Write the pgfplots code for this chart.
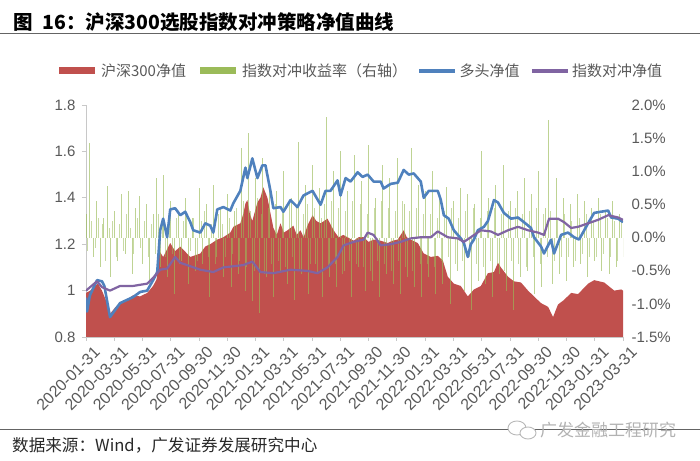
\documentclass[border=0pt]{standalone}
\usepackage{fontspec}
\setmainfont{Liberation Sans}
\newfontfamily\cjk{Noto Sans CJK SC}
\usepackage{pgfplots}
\pgfplotsset{compat=1.18}
\definecolor{hsred}{RGB}{192,80,77}
\definecolor{hsgreen}{RGB}{155,187,89}
\definecolor{hsblue}{RGB}{79,129,189}
\definecolor{hspurple}{RGB}{128,100,162}
\definecolor{tickgray}{RGB}{89,89,89}
\definecolor{axgray}{RGB}{200,200,200}
\pgfplotsset{
  base/.style={scale only axis, width=537bp, height=232bp, at={(86bp,124bp)}, anchor=south west,
    xmin=0, xmax=38, /pgf/number format/assume math mode=true,
    tick label style={font=\fontsize{15bp}{17bp}\selectfont, text=tickgray}},
}
\begin{document}
\begin{tikzpicture}
\useasboundingbox (0,0) rectangle (700bp,461bp);
% left axis with area
\begin{axis}[base, ymin=0.8, ymax=1.8, ytick={0.8,1,1.2,1.4,1.6,1.8},
  axis x line*=bottom, axis y line*=left,
  axis line style={draw=axgray, line width=0.8bp},
  tick style={draw=axgray, line width=0.8bp}, tick align=outside, major tick length=4bp,
  xtick={0,2,...,38},
  xticklabels={2020-01-31,2020-03-31,2020-05-31,2020-07-31,2020-09-30,2020-11-30,2021-01-31,2021-03-31,2021-05-31,2021-07-31,2021-09-30,2021-11-30,2022-01-31,2022-03-31,2022-05-31,2022-07-31,2022-09-30,2022-11-30,2023-01-31,2023-03-31},
  xticklabel style={rotate=45, anchor=north east, inner sep=1bp, font=\fontsize{16bp}{18bp}\selectfont, xshift=3bp, yshift=-7bp},
  yticklabel style={/pgf/number format/fixed, xshift=-3bp}]
\addplot[fill=hsred, draw=none] coordinates {
(0.00,0.99) (0.30,1.00) (0.60,1.02) (0.85,1.03) (1.13,1.00) (1.40,0.96) (1.70,0.90) (2.10,0.93)
(2.41,0.946) (2.90,0.96) (3.33,0.98) (3.83,0.975) (4.33,0.99) (4.75,1.02) (5.00,1.05) (5.15,1.175)
(5.46,1.145) (5.96,1.205) (6.31,1.17) (6.67,1.19) (7.38,1.145) (8.09,1.16) (8.44,1.19) (8.79,1.20)
(9.29,1.22) (9.72,1.23) (10.21,1.25) (10.43,1.275) (10.92,1.29) (11.13,1.33) (11.28,1.375) (11.42,1.39)
(11.60,1.33) (11.77,1.30) (12.13,1.38) (12.34,1.40) (12.55,1.445) (12.84,1.40) (13.05,1.335) (13.26,1.27)
(13.50,1.24) (13.76,1.29) (14.00,1.25) (14.26,1.26) (14.68,1.28) (14.90,1.24) (15.18,1.26) (15.40,1.23)
(15.67,1.28) (16.03,1.325) (16.30,1.30) (16.60,1.29) (17.09,1.31) (17.52,1.26) (17.87,1.23) (18.20,1.24)
(18.51,1.23) (18.94,1.215) (19.30,1.23) (19.65,1.23) (20.00,1.21) (20.35,1.22) (20.85,1.215) (21.35,1.205)
(21.70,1.215) (22.06,1.22) (22.48,1.26) (22.70,1.23) (22.98,1.22) (23.48,1.205) (23.90,1.16) (24.40,1.145)
(24.89,1.15) (25.25,1.13) (25.60,1.06) (26.03,1.03) (26.52,1.02) (27.02,0.975) (27.45,1.005) (27.94,1.02)
(28.44,1.075) (28.87,1.08) (29.15,1.12) (29.36,1.10) (29.86,1.06) (30.28,1.04) (30.78,1.035) (31.28,1.00)
(31.70,0.975) (32.20,0.946) (32.70,0.93) (33.05,0.886) (33.40,0.94) (33.83,0.96) (34.33,0.99) (34.82,0.985)
(35.53,1.03) (35.96,1.045) (36.67,1.035) (37.38,1.00) (37.87,1.005) (38.00,1.00)
} \closedcycle;
\end{axis}
% right axis with hedge returns
\begin{axis}[base, ymin=-1.5, ymax=2.0, ytick={-1.5,-1,-0.5,0,0.5,1,1.5,2},
  axis y line*=right, axis x line=none,
  y axis line style={draw=none}, ytick style={draw=none}, major tick length=4bp,
  yticklabel style={xshift=5bp},
  yticklabel={\pgfmathprintnumber[fixed,fixed zerofill,precision=1]{\tick}\%}]
\addplot[ycomb, draw=hsgreen, line width=0.7bp, opacity=0.65] coordinates {
(0,0.35) (0.25,1.43) (0.5,-0.30) (0.75,0.55) (1.0,-0.45) (1.25,0.30) (1.5,0.78) (1.75,-0.60)
(2.0,0.40) (2.25,-0.35) (2.5,0.65) (2.75,-0.25) (3.0,0.70) (3.25,-0.55) (3.5,0.45) (3.75,0.62)
(4.0,-0.40) (4.25,0.50) (4.5,-0.70) (4.75,0.35) (5.0,0.90) (5.25,-0.45) (5.5,0.95) (5.75,-0.60)
(6.0,0.55) (6.25,-0.85) (6.5,0.40) (6.75,-0.35) (7.0,0.60) (7.25,-0.70) (7.5,0.30) (7.75,-0.50)
(8.0,0.75) (8.25,-0.40) (8.5,0.50) (8.75,-0.90) (9.0,0.80) (9.25,-0.30) (9.5,0.45) (9.75,-0.60)
(10.0,0.65) (10.25,-0.75) (10.5,0.40) (10.75,-0.55) (11.0,1.35) (11.25,-0.80) (11.5,1.58) (11.75,-0.95)
(12.0,0.90) (12.25,-1.14) (12.5,1.20) (12.75,-0.60) (13.0,0.85) (13.25,-0.90) (13.5,0.70) (13.75,-0.50)
(14.0,1.00) (14.25,-0.70) (14.5,0.60) (14.75,-0.94) (15.0,1.44) (15.25,-0.55) (15.5,0.80) (15.75,-0.85)
(16.0,1.10) (16.25,-0.40) (16.5,0.75) (16.75,-0.90) (17.0,1.82) (17.25,-0.60) (17.5,1.00) (17.75,-0.75)
(18.0,1.30) (18.25,-0.50) (18.5,0.70) (18.75,-0.90) (19.0,1.25) (19.25,-0.45) (19.5,0.85) (19.75,-0.80)
(20.0,1.40) (20.25,-0.65) (20.5,0.60) (20.75,-0.90) (21.0,1.10) (21.25,-0.55) (21.5,0.90) (21.75,-0.70)
(22.0,1.20) (22.25,-0.85) (22.5,0.50) (22.75,-0.60) (23.0,1.35) (23.25,-0.75) (23.5,0.80) (23.75,-0.90)
(24.0,0.70) (24.25,-0.60) (24.5,1.00) (24.75,-0.85) (25.0,0.60) (25.25,-0.70) (25.5,0.76) (25.75,-1.00)
(26.0,0.55) (26.25,-0.50) (26.5,0.75) (26.75,-0.80) (27.0,0.65) (27.25,-1.10) (27.5,0.50) (27.75,-0.65)
(28.0,1.30) (28.25,-0.70) (28.5,0.60) (28.75,-0.90) (29.0,0.80) (29.25,-0.55) (29.5,1.10) (29.75,-0.80)
(30.0,0.55) (30.25,-1.10) (30.5,0.70) (30.75,-0.60) (31.0,0.90) (31.25,-0.50) (31.5,0.65) (31.75,-0.85)
(32.0,1.00) (32.25,-0.75) (32.5,0.45) (32.75,1.77) (33.0,-0.70) (33.25,0.90) (33.5,-0.55) (33.75,0.60)
(34.0,-0.65) (34.25,0.50) (34.5,-0.45) (34.75,0.65) (35.0,-0.40) (35.25,0.55) (35.5,-0.60) (35.75,0.45)
(36.0,-0.35) (36.25,0.60) (36.5,-0.50) (36.75,0.40) (37.0,-0.55) (37.25,0.55) (37.5,-0.45) (37.75,0.35)
(38.0,-0.30)
};
\addplot[ycomb, draw=hsgreen, line width=0.6bp, opacity=0.55] coordinates {
(0.125,-0.20) (0.375,0.25) (0.625,-0.15) (0.875,0.30) (1.125,0.20) (1.375,-0.35) (1.625,0.15) (1.875,0.25)
(2.125,-0.30) (2.375,0.20) (2.625,-0.20) (2.875,0.35) (3.125,0.15) (3.375,-0.25) (3.625,0.30) (3.875,-0.15)
(4.125,0.25) (4.375,-0.30) (4.625,0.20) (4.875,-0.25) (5.125,0.35) (5.375,0.20) (5.625,-0.30) (5.875,0.40)
(6.125,-0.25) (6.375,0.30) (6.625,-0.40) (6.875,0.25) (7.125,0.35) (7.375,-0.20) (7.625,0.30) (7.875,-0.35)
(8.125,0.25) (8.375,0.40) (8.625,-0.30) (8.875,0.20) (9.125,-0.40) (9.375,0.35) (9.625,0.20) (9.875,-0.30)
(10.125,0.30) (10.375,-0.25) (10.625,0.45) (10.875,-0.35) (11.125,0.55) (11.375,-0.45) (11.625,0.40) (11.875,-0.50)
(12.125,0.60) (12.375,0.35) (12.625,-0.55) (12.875,0.45) (13.125,-0.40) (13.375,0.50) (13.625,-0.35) (13.875,0.40)
(14.125,-0.45) (14.375,0.55) (14.625,-0.30) (14.875,0.45) (15.125,-0.50) (15.375,0.35) (15.625,0.50) (15.875,-0.40)
(16.125,0.45) (16.375,-0.55) (16.625,0.30) (16.875,0.50) (17.125,-0.45) (17.375,0.55) (17.625,-0.40) (17.875,0.45)
(18.125,-0.55) (18.375,0.40) (18.625,-0.35) (18.875,0.55) (19.125,-0.40) (19.375,0.50) (19.625,-0.45) (19.875,0.35)
(20.125,-0.50) (20.375,0.45) (20.625,-0.35) (20.875,0.55) (21.125,-0.40) (21.375,0.45) (21.625,-0.50) (21.875,0.40)
(22.125,-0.35) (22.375,0.55) (22.625,-0.45) (22.875,0.40) (23.125,-0.50) (23.375,0.45) (23.625,-0.40) (23.875,0.35)
(24.125,-0.40) (24.375,0.35) (24.625,-0.45) (24.875,0.30) (25.125,-0.35) (25.375,0.40) (25.625,-0.30) (25.875,0.45)
(26.125,-0.40) (26.375,0.30) (26.625,-0.35) (26.875,0.40) (27.125,-0.30) (27.375,0.45) (27.625,-0.40) (27.875,0.30)
(28.125,-0.45) (28.375,0.40) (28.625,-0.35) (28.875,0.45) (29.125,-0.40) (29.375,0.35) (29.625,-0.50) (29.875,0.40)
(30.125,-0.35) (30.375,0.45) (30.625,-0.40) (30.875,0.35) (31.125,-0.45) (31.375,0.40) (31.625,-0.30) (31.875,0.45)
(32.125,-0.40) (32.375,0.35) (32.625,-0.30) (32.875,0.40) (33.125,-0.35) (33.375,0.30) (33.625,-0.30) (33.875,0.35)
(34.125,-0.30) (34.375,0.25) (34.625,-0.35) (34.875,0.30) (35.125,-0.25) (35.375,0.35) (35.625,-0.30) (35.875,0.25)
(36.125,-0.30) (36.375,0.35) (36.625,-0.25) (36.875,0.30) (37.125,-0.30) (37.375,0.25) (37.625,-0.35) (37.875,0.30)
};
\end{axis}
% lines and legend
\begin{axis}[base, ymin=0.8, ymax=1.8, hide axis,
  legend style={at={(axis description cs:-0.057,1.147)}, anchor=west, draw=none, fill=none,
    inner sep=0pt, font=\cjk\fontsize{15bp}{17bp}\selectfont, text=tickgray,
    nodes={inner xsep=2.5bp, inner ysep=1bp},
    /tikz/every even column/.append style={column sep=8bp}},
  legend columns=4,
  legend image code/.code={\draw[#1] (0bp,0bp) -- (36bp,0bp);}]
\addlegendimage{draw=hsred, line width=7bp}
\addlegendentry{沪深300净值}
\addlegendimage{draw=hsgreen, line width=7bp}
\addlegendentry{指数对冲收益率（右轴）}
\addlegendimage{draw=hsblue, line width=3.5bp}
\addlegendentry{多头净值}
\addlegendimage{draw=hspurple, line width=3.5bp}
\addlegendentry{指数对冲净值}
\addplot[forget plot, draw=hsblue, line width=2.6bp, line join=round] coordinates {
(0.00,0.97) (0.07,0.91) (0.28,0.98) (0.78,1.045) (1.13,1.04) (1.30,1.02) (1.70,0.886) (2.41,0.946)
(3.33,0.972) (3.83,0.994) (4.33,1.00) (4.75,1.045) (5.04,1.08) (5.25,1.26) (5.46,1.31) (5.74,1.23)
(5.96,1.35) (6.31,1.355) (6.67,1.325) (7.02,1.34) (7.38,1.295) (7.59,1.26) (8.09,1.25) (8.44,1.29)
(8.79,1.28) (9.01,1.25) (9.29,1.35) (9.72,1.36) (10.21,1.345) (10.43,1.377) (10.92,1.43) (11.28,1.53)
(11.42,1.485) (11.77,1.57) (12.13,1.485) (12.48,1.54) (12.70,1.54) (13.05,1.43) (13.26,1.355) (13.76,1.36)
(13.97,1.34) (14.47,1.39) (14.96,1.36) (15.39,1.41) (16.03,1.43) (16.60,1.37) (16.95,1.43) (17.30,1.43)
(17.80,1.475) (18.01,1.41) (18.37,1.485) (18.72,1.47) (19.22,1.51) (19.57,1.49) (19.93,1.50) (20.35,1.47)
(20.85,1.47) (21.06,1.44) (21.56,1.46) (22.06,1.465) (22.48,1.52) (22.84,1.50) (23.19,1.505) (23.69,1.47)
(23.90,1.40) (24.26,1.43) (24.89,1.43) (25.11,1.39) (25.32,1.325) (25.67,1.31) (26.03,1.26) (26.52,1.225)
(26.74,1.205) (27.02,1.145) (27.23,1.20) (27.45,1.22) (27.73,1.26) (28.16,1.275) (28.44,1.30) (28.87,1.39)
(29.15,1.38) (29.57,1.335) (30.07,1.31) (30.57,1.315) (30.99,1.295) (31.49,1.27) (31.70,1.23) (32.20,1.19)
(32.41,1.16) (32.91,1.22) (33.12,1.16) (33.62,1.24) (34.11,1.25) (34.54,1.23) (34.89,1.22) (35.53,1.29)
(35.96,1.335) (36.45,1.34) (36.95,1.345) (37.16,1.315) (37.66,1.31) (38.00,1.295)
};
\addplot[forget plot, draw=hspurple, line width=2.2bp, line join=round] coordinates {
(0.00,1.00) (0.78,1.04) (1.13,1.015) (1.70,1.00) (2.41,1.02) (3.33,1.02) (4.33,1.03) (4.75,1.055)
(5.25,1.09) (5.74,1.095) (6.31,1.145) (6.67,1.12) (7.38,1.105) (8.09,1.09) (9.01,1.08) (9.72,1.10)
(10.43,1.105) (11.13,1.11) (11.77,1.125) (12.34,1.08) (13.26,1.075) (14.47,1.09) (15.67,1.085) (16.38,1.075)
(17.09,1.10) (17.80,1.145) (18.23,1.195) (18.94,1.21) (19.65,1.22) (19.93,1.25) (20.35,1.24) (20.85,1.195)
(21.56,1.20) (22.27,1.21) (22.98,1.225) (23.69,1.23) (24.40,1.23) (24.89,1.255) (25.60,1.23) (26.31,1.225)
(26.74,1.21) (27.23,1.23) (27.94,1.26) (28.65,1.255) (29.15,1.24) (29.86,1.26) (30.57,1.275) (31.28,1.26)
(31.99,1.25) (32.41,1.24) (32.77,1.31) (33.40,1.31) (33.83,1.295) (34.33,1.27) (34.82,1.275) (35.53,1.29)
(36.24,1.305) (36.95,1.325) (37.66,1.315) (38.00,1.305)
};
\end{axis}
% title, rules, source
\node[anchor=west, inner sep=0pt] at (13bp,439bp) {\cjk\bfseries\fontsize{19.5bp}{22bp}\selectfont 图\hspace{0.5em}16：沪深300选股指数对冲策略净值曲线};
\draw[line width=0.9bp, draw={rgb,255:red,100;green,100;blue,100}] (0bp,428bp) -- (700bp,428bp);
\draw[line width=0.9bp, draw={rgb,255:red,100;green,100;blue,100}] (0bp,32bp) -- (700bp,32bp);
\node[anchor=west, inner sep=0pt, text={rgb,255:red,40;green,40;blue,40}] at (12bp,16bp) {\cjk\fontsize{16.6bp}{18bp}\selectfont 数据来源：Wind，广发证券发展研究中心};
\draw[line width=0.9bp, draw=gray!55, fill=white] (517bp,33bp) ellipse (9bp and 7bp);
\draw[line width=0.9bp, draw=gray!55, fill=white] (528bp,28bp) ellipse (8bp and 6bp);
\node[anchor=west, inner sep=0pt, text=gray!60] at (540bp,31bp) {\cjk\fontsize{17bp}{19bp}\selectfont 广发金融工程研究};
\end{tikzpicture}
\end{document}
